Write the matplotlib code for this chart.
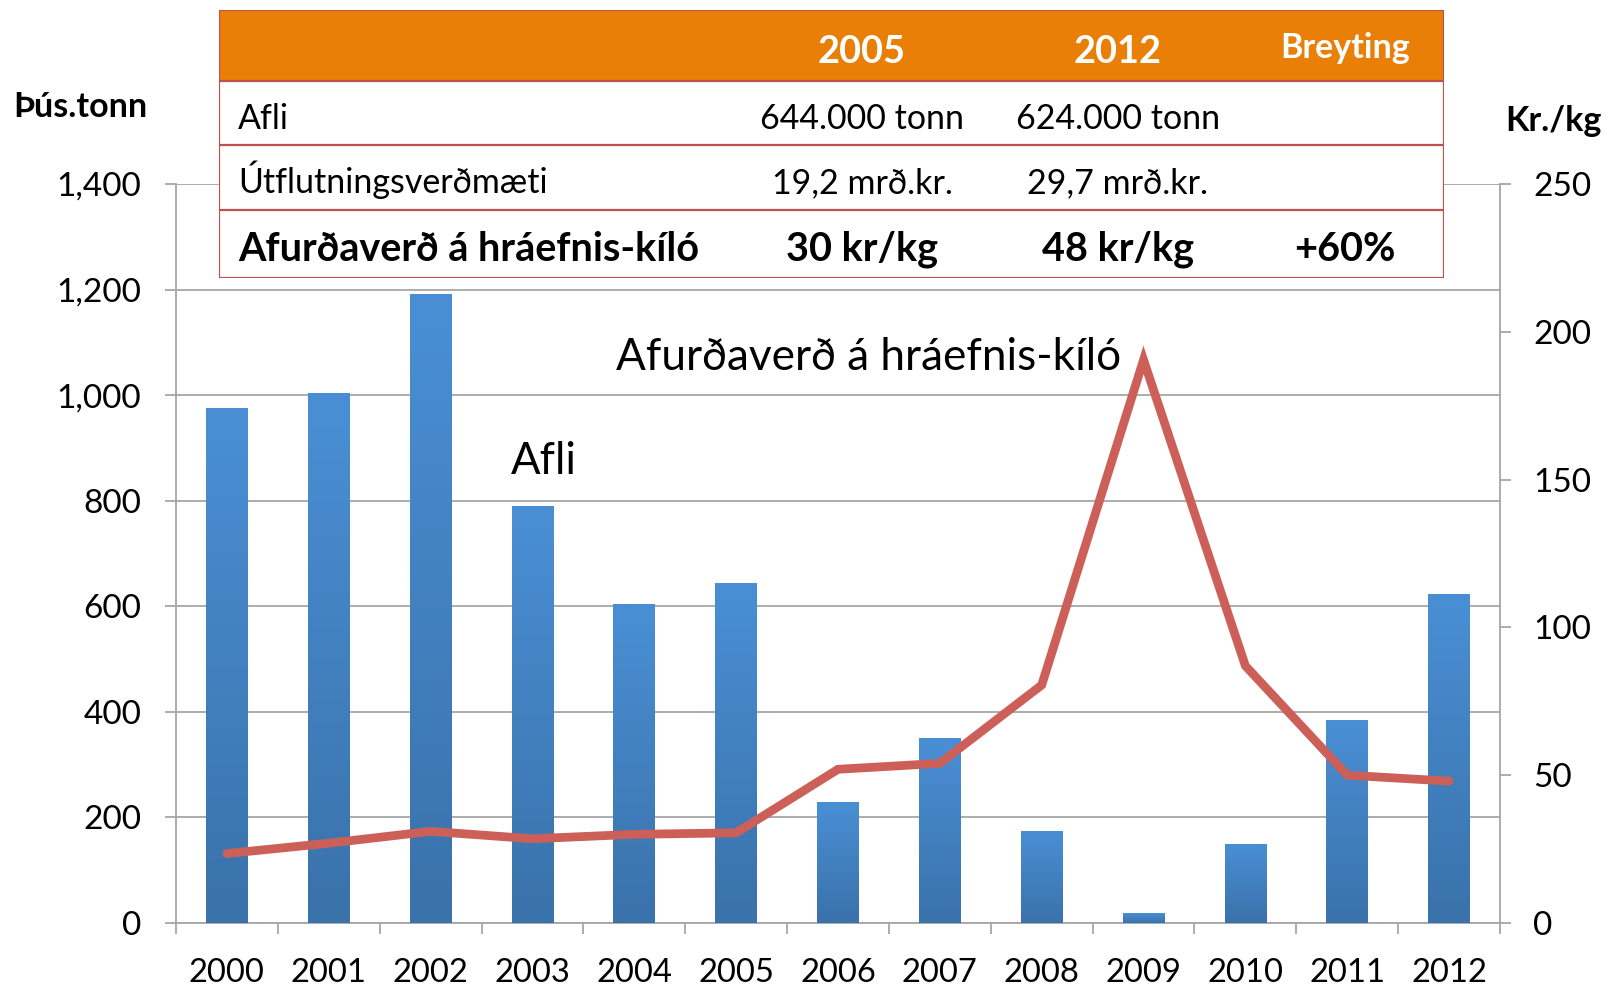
import matplotlib
matplotlib.use("Agg")
import matplotlib.pyplot as plt
import numpy as np
from matplotlib.colors import LinearSegmentedColormap
from matplotlib.patches import Rectangle
from matplotlib.ticker import FuncFormatter, FixedLocator

plt.rcParams['font.family'] = ['Lato', 'DejaVu Sans']

# ---------------- data ----------------
years = ['2000', '2001', '2002', '2003', '2004', '2005', '2006',
         '2007', '2008', '2009', '2010', '2011', '2012']
afli = [975, 1005, 1192, 790, 605, 644, 230, 350, 175, 18, 150, 385, 624]
verd = [23.5, 27, 31, 28.5, 30, 30.5, 52, 54, 80.5, 190.5, 87, 50, 48]

left_ticks = [0, 200, 400, 600, 800, 1000, 1200, 1400]
right_ticks = [0, 50, 100, 150, 200, 250]

table_header = ['', '2005', '2012', 'Breyting']
table_rows = [
    ['Afli', '644.000 tonn', '624.000 tonn', ''],
    ['Útflutningsverðmæti', '19,2 mrð.kr.', '29,7 mrð.kr.', ''],
    ['Afurðaverð á hráefnis-kíló', '30 kr/kg', '48 kr/kg', '+60%'],
]

left_label = 'Þús.tonn'
right_label = 'Kr./kg'
bar_note = 'Afli'
line_note = 'Afurðaverð á hráefnis-kíló'

# ---------------- style ----------------
W, H = 1608, 988
GRID = '#A6A6A6'
LINE_C = '#CD5F59'
ORANGE = '#EA7F07'
RED = '#C0504D'
bar_cmap = LinearSegmentedColormap.from_list('bg', ['#3A72AA', '#4A8FD5'])

fig = plt.figure(figsize=(W / 100, H / 100), dpi=100)
ax = fig.add_axes([176 / W, 1 - 923 / H, (1500 - 176) / W, (923 - 184) / H])

x = np.arange(len(years))
bars = ax.bar(x, afli, width=0.41, color='#4282C0', zorder=2)
for b in bars:
    x0, y0 = b.get_x(), b.get_y()
    w, h = b.get_width(), b.get_height()
    grad = np.linspace(0, 1, 256).reshape(-1, 1)
    im = ax.imshow(grad, extent=[x0, x0 + w, y0, y0 + h], origin='lower',
                   aspect='auto', cmap=bar_cmap, zorder=3)
    im.set_clip_path(b)

ax.set_xlim(-0.5, len(years) - 0.5)
ax.set_ylim(0, 1400)
ax.set_aspect('auto')

# gridlines
ax.yaxis.set_major_locator(FixedLocator(left_ticks))
ax.yaxis.set_major_formatter(FuncFormatter(lambda v, p: f'{int(v):,}'))
ax.grid(axis='y', color=GRID, linewidth=1.3, zorder=0)
ax.set_axisbelow(True)

# x ticks at boundaries, labels at centers
ax.set_xticks(np.arange(-0.5, len(years), 1.0))
ax.set_xticklabels([])
ax.set_xticks(x, minor=True)
ax.set_xticklabels(years, minor=True)
ax.tick_params(axis='x', which='major', length=8, width=1.3, color=GRID, direction='out')
ax.tick_params(axis='x', which='minor', length=0, pad=25, labelsize=23.6)
ax.tick_params(axis='y', length=8, width=1.3, color=GRID, direction='out',
               pad=17, labelsize=24)

for s in ['top', 'right']:
    ax.spines[s].set_visible(False)
for s in ['left', 'bottom']:
    ax.spines[s].set_color(GRID)
    ax.spines[s].set_linewidth(1.3)

# line on right axis
ax2 = ax.twinx()
ax2.plot(x, verd, color=LINE_C, linewidth=6.3, solid_capstyle='round',
         solid_joinstyle='miter', zorder=5)
ax2.set_ylim(0, 250)
ax2.yaxis.set_major_locator(FixedLocator(right_ticks))
ax2.tick_params(axis='y', length=8, width=1.3, color=GRID, direction='out',
                pad=16, labelsize=24)
for s in ['top', 'left', 'bottom']:
    ax2.spines[s].set_visible(False)
ax2.spines['right'].set_color(GRID)
ax2.spines['right'].set_linewidth(1.3)

# annotations
ax.text(2.79, 874, bar_note, fontsize=31.5, va='center', ha='left', zorder=6)
ax.text(3.82, 1072, line_note, fontsize=31.8, va='center', ha='left', zorder=6)

# axis titles
fig.text(13 / W, 1 - 107 / H, left_label, fontsize=24.5, fontweight='bold',
         ha='left', va='center')
fig.text(1602 / W, 1 - 121 / H, right_label, fontsize=24.5, fontweight='bold',
         ha='right', va='center')

# ---------------- table ----------------
tx0, ty0, tx1, ty1 = 219, 10, 1444, 278
tax = fig.add_axes([tx0 / W, 1 - ty1 / H, (tx1 - tx0) / W, (ty1 - ty0) / H], zorder=10)
tw, th = tx1 - tx0, ty1 - ty0
tax.set_xlim(0, tw)
tax.set_ylim(th, 0)
tax.axis('off')
row_edges = [0, 71, 135, 200, th]
tax.add_patch(Rectangle((0, 0), tw, th, facecolor='white', edgecolor='none'))
tax.add_patch(Rectangle((0, 0), tw, row_edges[1], facecolor=ORANGE, edgecolor='none'))
for yy in row_edges[1:-1]:
    tax.plot([0, tw], [yy, yy], color=RED, linewidth=1.6)
tax.add_patch(Rectangle((0, 0), tw, th, facecolor='none', edgecolor=RED, linewidth=1.6))

col_x = [19, 643, 899, 1126]
# header
tax.text(col_x[1], 53, table_header[1], color='white', fontsize=27.3, fontweight='bold',
         ha='center', va='baseline')
tax.text(col_x[2], 53, table_header[2], color='white', fontsize=27.3, fontweight='bold',
         ha='center', va='baseline')
tax.text(col_x[3], 48, table_header[3], color='white', fontsize=24.5, fontweight='bold',
         ha='center', va='baseline')
baselines = [119, 183, 251]
for r, row in enumerate(table_rows):
    bold = r == 2
    fs = 28.5 if bold else 24.5
    fw = 'bold' if bold else 'normal'
    tax.text(col_x[0], baselines[r], row[0], fontsize=fs, fontweight=fw,
             ha='left', va='baseline')
    for c in range(1, 4):
        if row[c]:
            tax.text(col_x[c], baselines[r], row[c], fontsize=fs, fontweight=fw,
                     ha='center', va='baseline')

fig.savefig('out.png', dpi=100)
